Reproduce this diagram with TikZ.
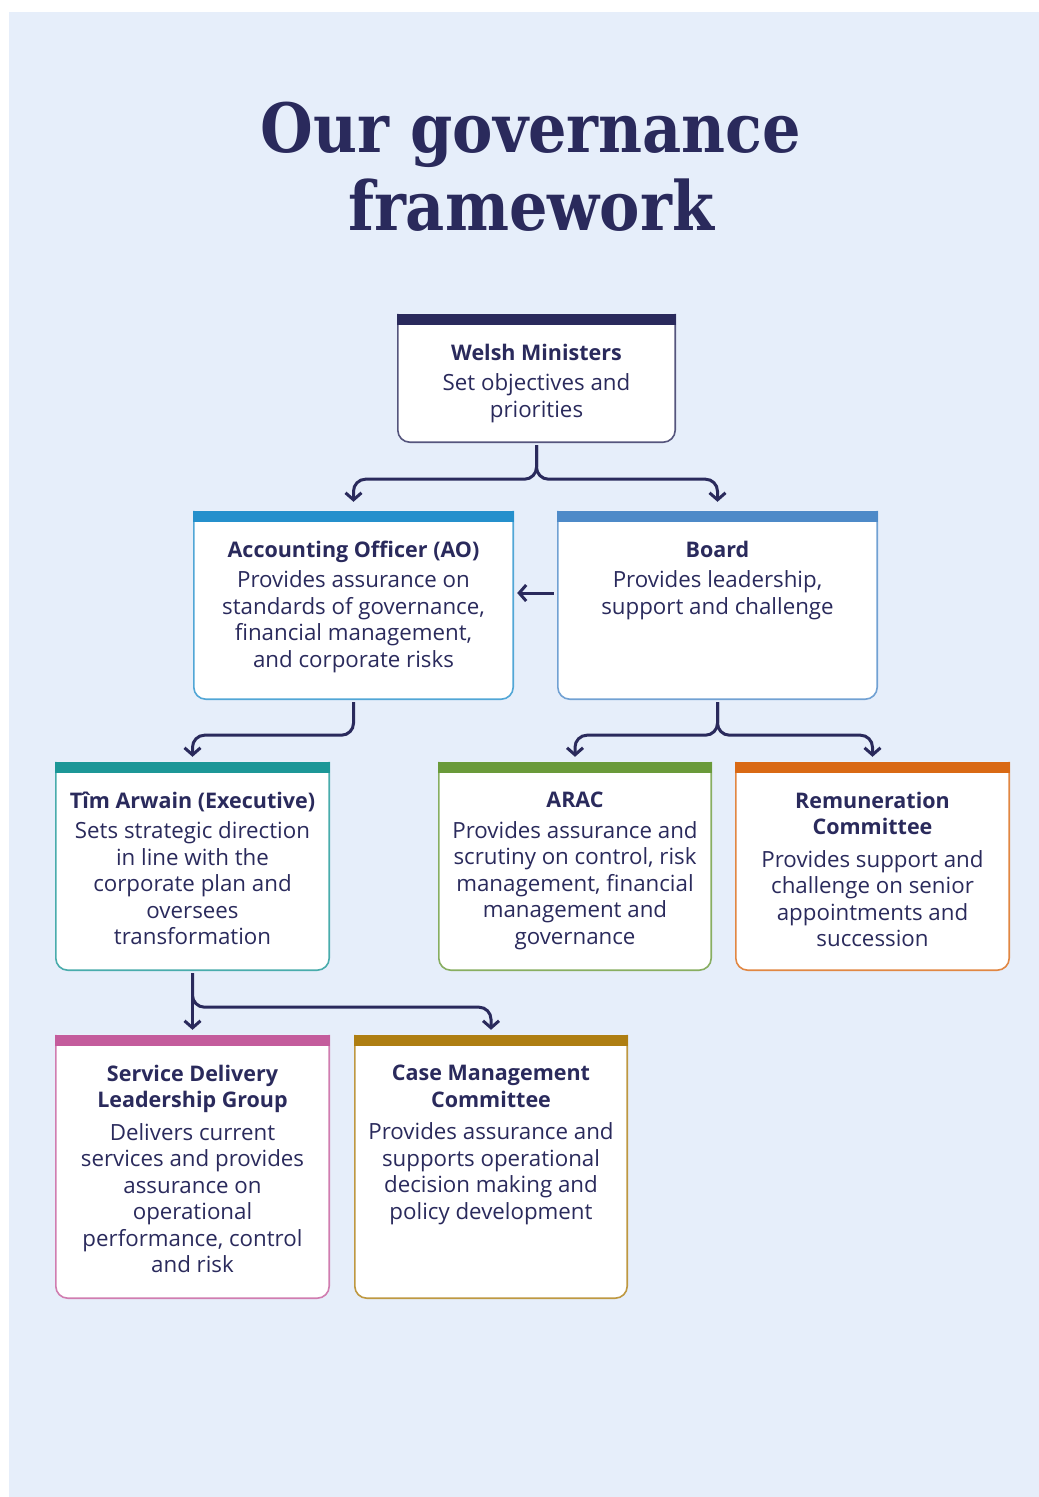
\documentclass[tikz,border=0pt]{standalone}
\usepackage{fontspec}
\setmainfont{Open Sans}
\newfontfamily\titlefont[FakeStretch=0.89]{DejaVu Serif}
\usetikzlibrary{positioning,arrows.meta}
\definecolor{navy}{RGB}{42,42,92}
\definecolor{pagebg}{RGB}{230,238,250}
\definecolor{aoblue}{RGB}{37,144,204}
\definecolor{boardblue}{RGB}{78,138,200}
\definecolor{timteal}{RGB}{28,151,151}
\definecolor{aracgreen}{RGB}{106,154,58}
\definecolor{remorange}{RGB}{217,105,20}
\definecolor{sdlgpink}{RGB}{196,92,156}
\definecolor{cmcgold}{RGB}{174,126,18}
\newcommand{\boxhead}[1]{{\fontsize{21.5}{26.5}\selectfont\bfseries #1}}
\begin{document}
\begin{tikzpicture}[x=1pt,y=-1pt,
  orgbox/.style={inner sep=0pt},
  desc/.style={inner sep=0pt,align=center,text=navy,font=\fontsize{22.3}{26.5}\selectfont},
  heading/.style={font=\titlefont\bfseries\fontsize{68}{78}\selectfont,text=navy,anchor=base},
  conn/.style={draw=navy,line width=3pt,rounded corners=12pt,-{Straight Barb[length=7pt,width=16pt]}}]
\useasboundingbox (0,0) rectangle (1039,1497);
\fill[pagebg] (9,12) rectangle (1039,1497);
\node[heading] (title1) at (531,152) {Our governance};
\node[heading] (title2) at (531,230) {framework};
\node[orgbox,minimum width=277,minimum height=128] (wm) at (536.5,378) {};
\node[orgbox,minimum width=319,minimum height=188] (ao) at (353.5,605) {};
\node[orgbox,minimum width=319,minimum height=188] (board) at (717.5,605) {};
\node[orgbox,minimum width=273,minimum height=208] (tim) at (192.5,866) {};
\node[orgbox,minimum width=272,minimum height=208] (arac) at (575,866) {};
\node[orgbox,minimum width=273,minimum height=208] (rem) at (872.5,866) {};
\node[orgbox,minimum width=273,minimum height=263] (sdlg) at (192.5,1166.5) {};
\node[orgbox,minimum width=272,minimum height=263] (cmc) at (491,1166.5) {};
\foreach \n/\c in {wm/navy,ao/aoblue,board/boardblue,tim/timteal,arac/aracgreen,rem/remorange,sdlg/sdlgpink,cmc/cmcgold}{
  \filldraw[fill=white,draw=\c!80!white,line width=1.6pt,rounded corners=12pt] (\n.north west) -- (\n.south west) -- (\n.south east) -- (\n.north east);
  \fill[\c] ([xshift=-0.8pt]\n.north west) rectangle ([xshift=0.8pt,yshift=-11pt]\n.north east);
}
\node[desc,below=30pt of wm.north] (wmtext) {\boxhead{Welsh Ministers}\\[4pt]Set objectives and\\priorities};
\node[desc,below=30pt of ao.north] (aotext) {\boxhead{Accounting Officer (AO)}\\[4pt]Provides assurance on\\standards of governance,\\financial management,\\and corporate risks};
\node[desc,below=30pt of board.north] (boardtext) {\boxhead{Board}\\[4pt]Provides leadership,\\support and challenge};
\node[desc,below=30pt of tim.north] (timtext) {\boxhead{Tîm Arwain (Executive)}\\[4pt]Sets strategic direction\\in line with the\\corporate plan and\\oversees\\transformation};
\node[desc,below=30pt of arac.north] (aractext) {\boxhead{ARAC}\\[4pt]Provides assurance and\\scrutiny on control, risk\\management, financial\\management and\\governance};
\node[desc,below=30pt of rem.north] (remtext) {\boxhead{Remuneration}\\\boxhead{Committee}\\[6pt]Provides support and\\challenge on senior\\appointments and\\succession};
\node[desc,below=30pt of sdlg.north] (sdlgtext) {\boxhead{Service Delivery}\\\boxhead{Leadership Group}\\[6pt]Delivers current\\services and provides\\assurance on\\operational\\performance, control\\and risk};
\node[desc,below=30pt of cmc.north] (cmctext) {\boxhead{Case Management}\\\boxhead{Committee}\\[6pt]Provides assurance and\\supports operational\\decision making and\\policy development};
\draw[conn,shorten <=3pt,shorten >=9pt] (wm.south) -- ++(0,37) -| (ao.north);
\draw[conn,shorten <=3pt,shorten >=9pt] (wm.south) -- ++(0,37) -| (board.north);
\draw[conn,shorten <=4pt,shorten >=4pt] ([yshift=12pt]board.west) -- ([yshift=12pt]ao.east);
\draw[conn,shorten <=3pt,shorten >=5pt] (ao.south) -- ++(0,36) -| (tim.north);
\draw[conn,shorten <=3pt,shorten >=5pt] (board.south) -- ++(0,36) -| (arac.north);
\draw[conn,shorten <=3pt,shorten >=5pt] (board.south) -- ++(0,36) -| (rem.north);
\draw[conn,shorten <=3pt,shorten >=5pt] (tim.south) -- (sdlg.north);
\draw[conn,shorten <=3pt,shorten >=5pt] (tim.south) -- ++(0,37) -| (cmc.north);
\end{tikzpicture}
\end{document}
